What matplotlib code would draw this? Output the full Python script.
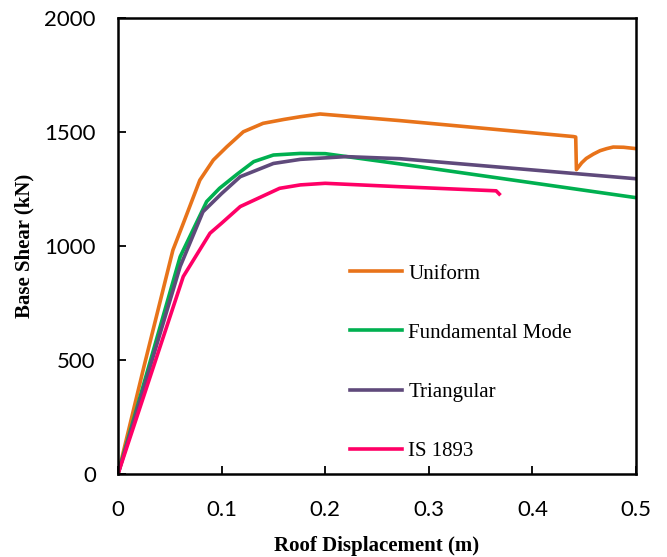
import matplotlib.pyplot as plt

# Pushover curves
uniform_x = [0, 0.025, 0.053, 0.063, 0.079, 0.092, 0.105, 0.121, 0.140, 0.160, 0.176, 0.195,
             0.272, 0.4395, 0.4418, 0.4425, 0.4476, 0.452, 0.4588, 0.4653, 0.4717, 0.478, 0.488, 0.5]
uniform_y = [0, 470, 982, 1099, 1289, 1377, 1435, 1501, 1538, 1555, 1567, 1579,
             1550, 1480, 1478, 1335, 1365, 1384, 1403, 1418, 1427, 1434, 1433, 1427]

fund_x = [0, 0.06, 0.0856, 0.098, 0.115, 0.131, 0.150, 0.176, 0.200, 0.272, 0.5]
fund_y = [0, 953, 1195, 1253, 1315, 1370, 1399, 1406, 1405, 1360, 1212]

tri_x = [0, 0.06, 0.082, 0.100, 0.118, 0.150, 0.176, 0.220, 0.272, 0.5]
tri_y = [0, 910, 1150, 1230, 1304, 1362, 1380, 1392, 1383, 1295]

is_x = [0, 0.063, 0.0888, 0.100, 0.118, 0.156, 0.176, 0.200, 0.272, 0.365, 0.368]
is_y = [0, 866, 1056, 1100, 1173, 1253, 1268, 1275, 1260, 1242, 1228]

labels = ['Uniform', 'Fundamental Mode', 'Triangular', 'IS 1893']
colors = ['#E8731A', '#00B050', '#5F4A7B', '#FF0066']

fig = plt.figure(figsize=(6.67, 5.57), dpi=100)
ax = fig.add_axes([118/667, 1 - 474/557, (636-118)/667, (474-18)/557])

series = [(uniform_x, uniform_y), (fund_x, fund_y), (tri_x, tri_y), (is_x, is_y)]
for (xs, ys), lab, c in zip(series, labels, colors):
    ax.plot(xs, ys, '-', color=c, lw=2.6, label=lab, solid_joinstyle='round')

ax.set_xlim(0, 0.5)
ax.set_ylim(0, 2000)
ax.set_xticks([0, 0.1, 0.2, 0.3, 0.4, 0.5])
ax.set_xticklabels(['0', '0.1', '0.2', '0.3', '0.4', '0.5'])
ax.set_yticks([0, 500, 1000, 1500, 2000])

for s in ax.spines.values():
    s.set_linewidth(1.8)
ax.tick_params(direction='in', length=6, width=1.3, labelsize=16)
ax.tick_params(axis='x', pad=19)
ax.tick_params(axis='y', pad=16)
for t in ax.get_xticklabels() + ax.get_yticklabels():
    t.set_fontfamily('Lato')

ax.set_xlabel('Roof Displacement (m)', fontfamily='Liberation Serif',
              fontweight='bold', fontsize=15)
ax.set_ylabel('Base Shear (kN)', fontfamily='Liberation Serif',
              fontweight='bold', fontsize=15)
ax.xaxis.set_label_coords(0.5, -0.135)
ax.yaxis.set_label_coords(-0.162, 0.5)

ax.legend(loc='upper left', bbox_to_anchor=(350/667, 1 - 264/557),
          bbox_transform=fig.transFigure, frameon=False,
          prop={'family': 'Liberation Serif', 'size': 15},
          handlelength=2.5, handletextpad=0.3, labelspacing=1.9,
          borderpad=0, borderaxespad=0)

fig.savefig('out.png', dpi=100)
